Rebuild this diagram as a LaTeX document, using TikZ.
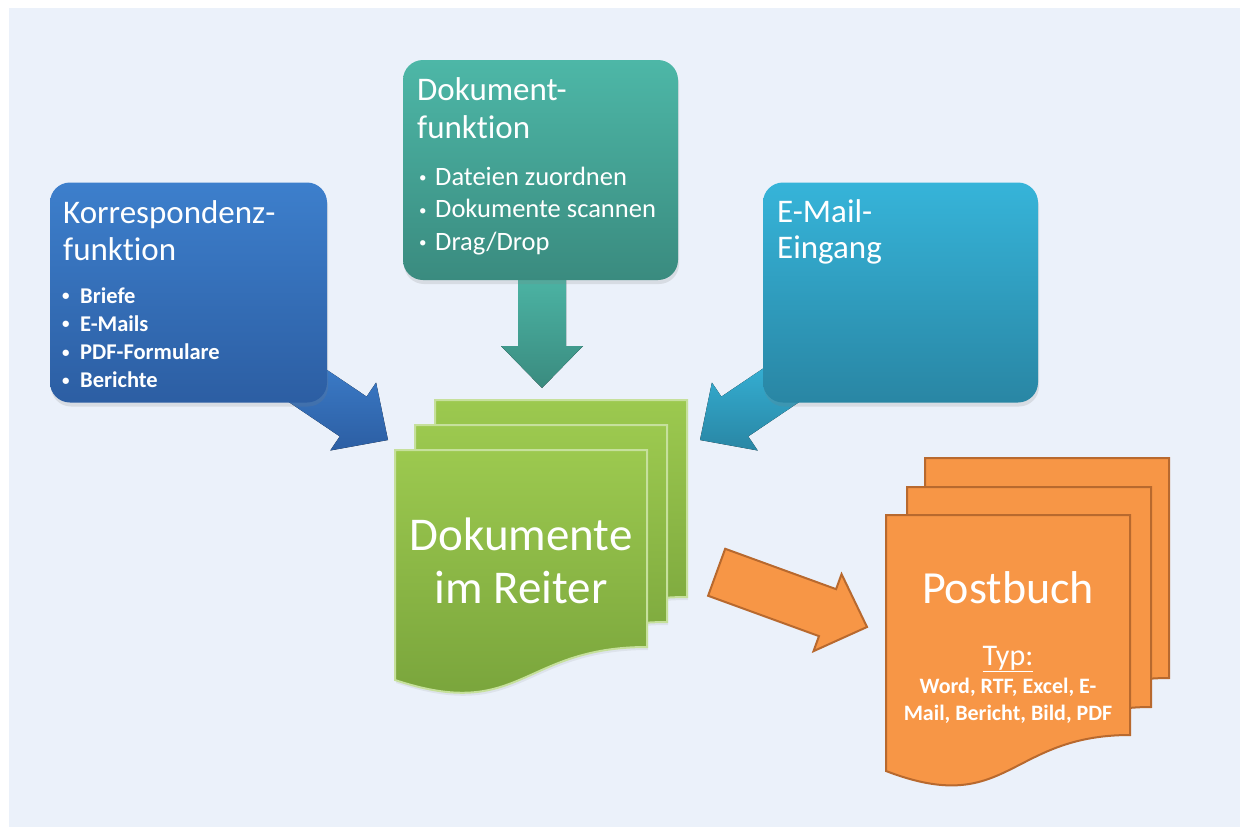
\documentclass[tikz,border=0pt]{standalone}
\usepackage{fontspec}
\setmainfont{Carlito}[Ligatures=NoCommon]
\usepackage{tikz}
\usetikzlibrary{shadows}

\definecolor{bgblue}{HTML}{EBF1FA}
\definecolor{kortop}{HTML}{3D7FCC}
\definecolor{korbot}{HTML}{2C5EA3}
\definecolor{dokTop}{HTML}{4DB7A7}
\definecolor{dokBot}{HTML}{3A8B7F}
\definecolor{mailtop}{HTML}{36B4D9}
\definecolor{mailbot}{HTML}{2986A4}
\definecolor{sheetTop}{HTML}{9CC94F}
\definecolor{sheetBot}{HTML}{76A13A}
\definecolor{sheetLine}{HTML}{C6E09C}
\definecolor{postFill}{HTML}{F79646}
\definecolor{postLine}{HTML}{B8692E}

\newcommand\smallbullet{\raisebox{2.5pt}{\fontsize{15}{15}\selectfont•}}

\tikzset{
	infobox/.style={rounded corners=20pt, inner sep=0pt, drop shadow={opacity=0.18, shadow xshift=1pt, shadow yshift=-4pt}},
	boxtitle/.style={anchor=base west, inner sep=0pt, text=white, font=\fontsize{33}{37}\selectfont},
	koritem/.style={anchor=base west, inner sep=0pt, text=white, font=\fontsize{22.5}{25}\selectfont\bfseries},
	dokitem/.style={anchor=base west, inner sep=0pt, text=white, font=\fontsize{26.5}{29}\selectfont},
	greensheet/.style={top color=sheetTop, bottom color=sheetBot, draw=sheetLine, line width=2pt, drop shadow={opacity=0.12, shadow xshift=1pt, shadow yshift=-3pt}},
	postsheet/.style={fill=postFill, draw=postLine, line width=2pt},
	sheettext/.style={anchor=base, inner sep=0pt, text=white}
}

\begin{document}
\begin{tikzpicture}[x=1pt, y=-1pt]
	\useasboundingbox (0,0) rectangle (1240,827);
	\fill[bgblue] (9,8) rectangle (1240,827);

	\coordinate (kortip) at (388,440);
	\coordinate (doktip) at (542,388);
	\coordinate (mailtip) at (700,440);
	\coordinate (posttip) at (867,627);

	\foreach \tip/\ang/\ct/\cb in {kortip/-34/kortop/korbot, doktip/-90/dokTop/dokBot, mailtip/-146/mailtop/mailbot}
		\fill[top color=\ct, bottom color=\cb, shift={(\tip)}, rotate=\ang] (0,0) -- (-42,41) -- (-42,24) -- (-120,24) -- (-120,-24) -- (-42,-24) -- (-42,-41) -- cycle;
	\filldraw[fill=postFill, draw=postLine, line width=2pt, shift={(posttip)}, rotate=-20] (0,0) -- (-42,41) -- (-42,25) -- (-160,25) -- (-160,-25) -- (-42,-25) -- (-42,-41) -- cycle;

	\node[infobox, top color=kortop, bottom color=korbot, minimum width=277pt, minimum height=220pt] (korbox) at (188.5,292.5) {};
	\node[infobox, top color=dokTop, bottom color=dokBot, minimum width=275pt, minimum height=220pt] (dokbox) at (540.5,170) {};
	\node[infobox, top color=mailtop, bottom color=mailbot, minimum width=275pt, minimum height=220pt] (mailbox) at (900.5,292.5) {};

	\node[boxtitle] (kortitle1) at (63,223) {Korrespondenz-};
	\node[boxtitle] (kortitle2) at (63,260) {funktion};
	\foreach \txt [count=\i] in {Briefe,E-Mails,PDF-Formulare,Berichte}
		\node[koritem] (koritem\i) at (62,{303+28.3*(\i-1)}) {\makebox[18pt][l]{\smallbullet}\txt};

	\node[boxtitle] (doktitle1) at (417,100) {Dokument-};
	\node[boxtitle] (doktitle2) at (417,138) {funktion};
	\foreach \txt [count=\i] in {Dateien zuordnen,Dokumente scannen,Drag/Drop}
		\node[dokitem] (dokitem\i) at (419,{185+32.5*(\i-1)}) {\makebox[16pt][l]{\smallbullet}\txt};

	\node[boxtitle] (mailtitle1) at (777,222) {E-Mail-};
	\node[boxtitle] (mailtitle2) at (777,258) {Eingang};

	\foreach \dx/\dy in {40/-50,20/-25,0/0}
		\draw[greensheet, shift={(\dx,\dy)}] (395,450) -- (647,450) -- (647,647) .. controls (521,647) and (521,722) .. (395,680) -- cycle;
	\node[sheettext, font=\fontsize{47}{50}\selectfont] (docline1) at (521,550) {Dokumente};
	\node[sheettext, font=\fontsize{47}{50}\selectfont] (docline2) at (521,603) {im Reiter};

	\foreach \dx/\dy in {39/-57,21/-28,0/0}
		\draw[postsheet, shift={(\dx,\dy)}] (886,515) -- (1130,515) -- (1130,735) .. controls (1008,735) and (1008,818) .. (886,771) -- cycle;
	\node[sheettext, font=\fontsize{46}{50}\selectfont] (postname) at (1008,603) {Postbuch};
	\node[sheettext, font=\fontsize{30}{34}\selectfont] (posttyp) at (1008,665) {\underline{Typ:}};
	\node[sheettext, font=\fontsize{22}{26}\selectfont\bfseries] (postlist1) at (1008,693) {Word, RTF, Excel, E-};
	\node[sheettext, font=\fontsize{22}{26}\selectfont\bfseries] (postlist2) at (1008,720) {Mail, Bericht, Bild, PDF};
\end{tikzpicture}
\end{document}
